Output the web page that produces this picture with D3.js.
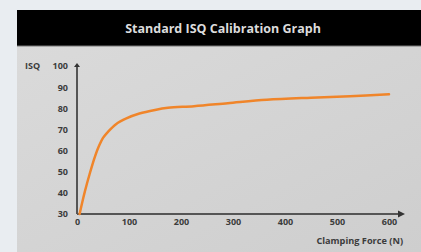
<!DOCTYPE html>
<html><head><meta charset="utf-8">
<script src="https://cdn.jsdelivr.net/npm/d3@7"></script>
<style>html,body{margin:0;padding:0;background:#e9edf1;overflow:hidden}</style>
</head><body>
<svg id="c" width="421" height="252"></svg>
<script>
const title = "Standard ISQ Calibration Graph";
const force = [5, 15, 25, 35, 42, 50, 60, 75, 95, 120, 150, 175, 225, 290, 365, 450, 525, 600];
const isq   = [30, 40.5, 49.5, 57.5, 62, 66, 69, 72.5, 75.2, 77.5, 79.2, 80.2, 81, 82.4, 84, 85, 85.7, 86.6];
const xTicks = [0, 100, 200, 300, 400, 500, 600];
const yTicks = [30, 40, 50, 60, 70, 80, 90, 100];
const xLabel = "Clamping Force (N)";
const yLabel = "ISQ";

const svg = d3.select("#c");
const defs = svg.append("defs");
const g1 = defs.append("linearGradient").attr("id","pg").attr("x1","0").attr("y1","0").attr("x2","1").attr("y2","1");
g1.append("stop").attr("offset","0").attr("stop-color","#dadada");
g1.append("stop").attr("offset","1").attr("stop-color","#cecece");

svg.append("rect").attr("x",17).attr("y",46).attr("width",404).attr("height",206).attr("fill","url(#pg)");
svg.append("rect").attr("x",17).attr("y",10).attr("width",404).attr("height",36).attr("fill","#000");
svg.append("line").attr("x1",17).attr("x2",421).attr("y1",46).attr("y2",46).attr("stroke","#777").attr("stroke-width",1);
svg.append("text").attr("x",223).attr("y",33).attr("text-anchor","middle")
  .attr("font-family","'Open Sans', sans-serif").attr("font-weight","700").attr("font-size",12.5)
  .attr("fill","#dcdcdc").text(title);

const x = d3.scaleLinear().domain([0,600]).range([77,389]);
const y = d3.scaleLinear().domain([30,100]).range([214,66]);

const axisCol = "#555";
svg.append("line").attr("x1",x(0)).attr("x2",401).attr("y1",y(30)).attr("y2",y(30)).attr("stroke",axisCol).attr("stroke-width",2);
svg.append("path").attr("d",`M405,${y(30)} L398,${y(30)-3.5} L398,${y(30)+3.5}Z`).attr("fill","#333");
svg.append("line").attr("x1",x(0)).attr("x2",x(0)).attr("y1",y(30)).attr("y2",y(100)).attr("stroke",axisCol).attr("stroke-width",2);
svg.append("path").attr("d",`M${x(0)},${y(100)-3} L${x(0)-3},${y(100)+1} L${x(0)+3},${y(100)+1}Z`).attr("fill","#333");

const fnt = "'Open Sans', sans-serif";
const tc = "#3c3c3c";
const xa = svg.append("g").attr("transform",`translate(0,${y(30)})`)
  .call(d3.axisBottom(x).tickValues(xTicks).tickSize(0).tickPadding(5));
xa.select(".domain").remove();
xa.selectAll("text").attr("font-family",fnt).attr("font-size",9).attr("font-weight","700").attr("fill",tc);

const ya = svg.append("g").attr("transform",`translate(68,0)`)
  .call(d3.axisLeft(y).tickValues(yTicks).tickSize(0).tickPadding(0));
ya.select(".domain").remove();
ya.selectAll("text").attr("font-family",fnt).attr("font-size",9).attr("font-weight","700").attr("fill",tc);

svg.append("text").attr("x",25).attr("y",y(100)+3).attr("font-family",fnt).attr("font-size",9).attr("font-weight","700").attr("fill",tc).text(yLabel);
svg.append("text").attr("x",403).attr("y",244).attr("text-anchor","end").attr("font-family",fnt).attr("font-size",9.2).attr("font-weight","700").attr("fill",tc).text(xLabel);

const data = force.map((f,i)=>[f,isq[i]]);
svg.append("path").datum(data)
  .attr("d", d3.line().x(d=>x(d[0])).y(d=>y(d[1])).curve(d3.curveCatmullRom.alpha(0.5)))
  .attr("fill","none").attr("stroke","#f0852a").attr("stroke-width",2.5).attr("stroke-linecap","round");
</script>
</body></html>
